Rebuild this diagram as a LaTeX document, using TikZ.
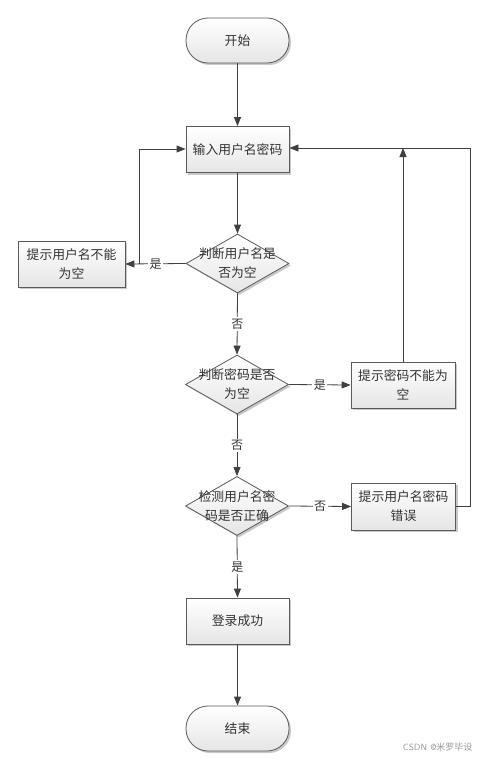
\documentclass[tikz,border=0pt]{standalone}
\usepackage{fontspec}
\newfontfamily\cjk{Noto Sans CJK SC}
\usetikzlibrary{shapes.geometric,arrows.meta,shadows}
\definecolor{lineC}{HTML}{404040}
\definecolor{txtC}{HTML}{333333}
\definecolor{edgeC}{HTML}{5A5A5A}
\begin{document}
\begin{tikzpicture}[x=1pt,y=-1pt,
  base/.style={draw=edgeC, line width=0.8pt, top color=white, bottom color=black!10,
    drop shadow={shadow xshift=2pt, shadow yshift=-2pt, fill=black!35, opacity=0.6},
    font=\cjk\fontsize{12.8}{19}\selectfont, text=txtC, align=center, inner sep=0pt},
  procbox/.style={base, rectangle, minimum width=103pt, minimum height=46pt},
  termbox/.style={base, rectangle, rounded corners=22pt, minimum width=103pt, minimum height=45pt},
  decbox/.style={base, diamond, minimum width=103pt, minimum height=59pt, aspect=1.75},
  conn/.style={draw=lineC, line width=0.8pt, -{Triangle[length=9pt,width=7pt]}},
  plain/.style={draw=lineC, line width=0.8pt},
  elabel/.style={fill=white, inner sep=1.5pt, font=\cjk\fontsize{12}{14}\selectfont, text=txtC}
]
\useasboundingbox (0,0) rectangle (484,760);
\fill[white] (0,0) rectangle (484,760);

\node[termbox] (start) at (237.5,40.5) {开始};
\node[procbox] (input) at (237.5,149.5) {输入用户名密码};
\node[decbox, label={[font=\cjk\fontsize{12.8}{19}\selectfont, text=txtC, align=center]center:判断用户名是\\否为空}] (d1) at (237.5,263.5) {};
\node[procbox, minimum width=107pt] (e1) at (71.5,264) {提示用户名不能\\为空};
\node[decbox, label={[font=\cjk\fontsize{12.8}{19}\selectfont, text=txtC, align=center]center:判断密码是否\\为空}] (d2) at (237,384.5) {};
\node[procbox, minimum width=104pt, minimum height=46pt] (e2) at (403,385) {提示密码不能为\\空};
\node[decbox, label={[font=\cjk\fontsize{12.8}{19}\selectfont, text=txtC, align=center]center:检测用户名密\\码是否正确}] (d3) at (237,506) {};
\node[procbox, minimum width=104pt, minimum height=47pt] (e3) at (403.5,506.5) {提示用户名密码\\错误};
\node[procbox] (ok) at (237.5,621) {登录成功};
\node[termbox] (end) at (237.5,728.5) {结束};

\node[font=\sffamily\fontsize{9}{11}\selectfont, text=black!40, anchor=east] (wm) at (476,747) {CSDN @\cjk 米罗毕设};

\coordinate (jl) at (139,264);
\coordinate (jlt) at (139,149);
\coordinate (r2t) at (403,148);
\coordinate (r3) at (470,506.5);
\coordinate (r3t) at (470,148);

\draw[conn] (start) -- (input);
\draw[conn] (input) -- (d1);
\draw[conn] (d1.west) -- node[elabel]{是} (e1.east);
\draw[plain] (jl) -- (jlt);
\draw[conn] (jlt) -- (input.west |- jlt);
\draw[conn] (d1.south) -- node[elabel]{否} (d2.north);
\draw[conn] (d2.east) -- node[elabel]{是} (e2.west);
\draw[conn] (e2.north) -- (r2t);
\draw[conn] (d2.south) -- node[elabel]{否} (d3.north);
\draw[conn] (d3.east) -- node[elabel]{否} (e3.west);
\draw[plain] (e3.east) -- (r3) -- (r3t);
\draw[conn] (r3t) -- (input.east |- r3t);
\draw[conn] (d3.south) -- node[elabel]{是} (ok.north);
\draw[conn] (ok) -- (end);
\end{tikzpicture}
\end{document}
